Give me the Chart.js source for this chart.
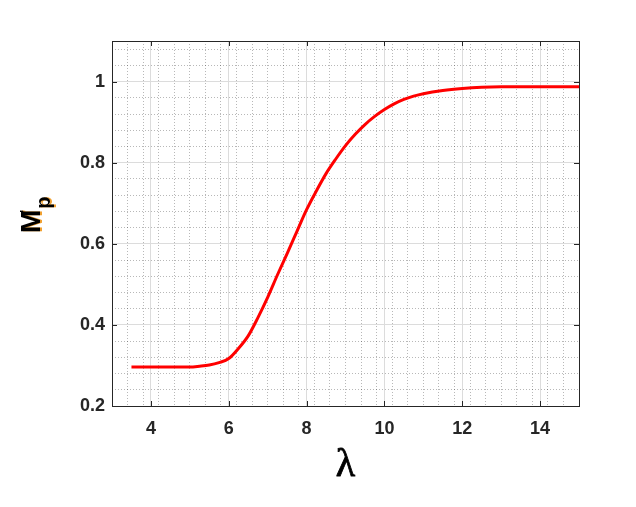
<!DOCTYPE html>
<html>
<head>
<meta charset="utf-8">
<script src="https://cdn.jsdelivr.net/npm/chart.js@4/dist/chart.umd.min.js"></script>
<style>
  html, body { margin: 0; padding: 0; background: #fff; }
  canvas { display: block; }
</style>
</head>
<body>
<canvas id="mpChart" width="636" height="507"></canvas>
<script>
// lambda values and M'p
const lambdaValues = [3.5, 4.0, 4.5, 5.0, 5.25, 5.5, 5.75, 6.0, 6.25, 6.5, 6.75, 7.0, 7.25, 7.5, 7.75,
  8.0, 8.25, 8.5, 8.75, 9.0, 9.25, 9.5, 9.75, 10.0, 10.25, 10.5, 10.75, 11.0, 11.5, 12.0, 12.5, 13.0, 14.0, 15.0];
const mpValues = [0.296, 0.296, 0.296, 0.296, 0.298, 0.301, 0.307, 0.317, 0.342, 0.373, 0.418, 0.468, 0.523, 0.576, 0.630,
  0.684, 0.730, 0.773, 0.809, 0.842, 0.870, 0.894, 0.914, 0.931, 0.945, 0.956, 0.964, 0.970, 0.978, 0.983, 0.986, 0.987, 0.987, 0.987];
const xTicks = [4, 6, 8, 10, 12, 14];
const yTicks = [0.2, 0.4, 0.6, 0.8, 1];
const xRange = [3, 15];
const yRange = [0.2, 1.1];
const xLabel = 'λ';

const textColor = '#262626';
const tickFont = { family: "'Liberation Sans', Arial, sans-serif", size: 18, weight: 'bold' };

const boxPlugin = {
  id: 'matlabBox',
  afterDraw(chart) {
    const { ctx, chartArea: a, scales } = chart;
    ctx.save();
    ctx.strokeStyle = textColor;
    ctx.lineWidth = 1;
    ctx.strokeRect(a.left + 0.5, a.top + 0.5, a.right - a.left, a.bottom - a.top);
    ctx.beginPath();
    xTicks.forEach(v => {
      const px = Math.round(scales.x.getPixelForValue(v)) + 0.5;
      ctx.moveTo(px, a.bottom); ctx.lineTo(px, a.bottom - 5);
      ctx.moveTo(px, a.top); ctx.lineTo(px, a.top + 5);
    });
    yTicks.forEach(v => {
      const py = Math.round(scales.y.getPixelForValue(v)) + 0.5;
      ctx.moveTo(a.left, py); ctx.lineTo(a.left + 5, py);
      ctx.moveTo(a.right, py); ctx.lineTo(a.right - 5, py);
    });
    ctx.stroke();

    // x title
    ctx.fillStyle = '#000';
    ctx.strokeStyle = '#000';
    ctx.lineWidth = 0.8;
    ctx.font = "40px 'Liberation Serif', 'Times New Roman', serif";
    ctx.textAlign = 'center';
    ctx.textBaseline = 'alphabetic';
    ctx.fillText(xLabel, (a.left + a.right) / 2, 476);
    ctx.strokeText(xLabel, (a.left + a.right) / 2, 476);

    // y title M'p, rotated, with a colour fringe like the original
    const drawY = (color, dx) => {
      ctx.save();
      ctx.translate(40 + dx, 233);
      ctx.rotate(-Math.PI / 2);
      ctx.fillStyle = color;
      ctx.textAlign = 'left';
      ctx.font = "bold 28px 'Liberation Sans', Arial, sans-serif";
      const wM = ctx.measureText('M').width;
      ctx.fillText('M', 0, 0);
      ctx.font = "bold 12px 'Liberation Sans', Arial, sans-serif";
      ctx.fillText("'", wM - 3, -11);
      ctx.font = "bold 20px 'Liberation Sans', Arial, sans-serif";
      ctx.fillText('p', wM + 1, 10);
      ctx.restore();
    };
    drawY('#f0a030', 1.5);
    drawY('#000', 0);
    ctx.restore();
  }
};

new Chart(document.getElementById('mpChart'), {
  type: 'line',
  data: {
    datasets: [{
      data: lambdaValues.map((x, i) => ({ x, y: mpValues[i] })),
      borderColor: '#ff0000',
      borderWidth: 3,
      pointRadius: 0,
      cubicInterpolationMode: 'monotone',
      fill: false
    }]
  },
  options: {
    responsive: false,
    animation: false,
    layout: { padding: { left: 0, top: 41, right: 57, bottom: 0 } },
    plugins: { legend: { display: false }, tooltip: { enabled: false } },
    scales: {
      xMinor: {
        type: 'linear', position: 'bottom', min: xRange[0], max: xRange[1], z: -1,
        ticks: { display: false, stepSize: 0.4, includeBounds: false },
        grid: { color: 'rgba(0,0,0,0.28)', lineWidth: 1, drawTicks: false },
        border: { display: false, dash: [1, 2] },
        afterFit: s => { s.height = 0; }
      },
      yMinor: {
        type: 'linear', position: 'left', min: yRange[0], max: yRange[1], z: -1,
        ticks: { display: false, stepSize: 0.04, includeBounds: false },
        grid: { color: 'rgba(0,0,0,0.28)', lineWidth: 1, drawTicks: false },
        border: { display: false, dash: [1, 2] },
        afterFit: s => { s.width = 0; }
      },
      x: {
        type: 'linear', position: 'bottom', min: xRange[0], max: xRange[1],
        afterBuildTicks: s => { s.ticks = xTicks.map(v => ({ value: v })); },
        ticks: { color: textColor, font: tickFont, padding: 12, maxRotation: 0, callback: v => String(v) },
        grid: { color: '#dcdcdc', lineWidth: 1, drawTicks: false },
        border: { display: false },
        afterFit: s => { s.height = 101; }
      },
      y: {
        type: 'linear', position: 'left', min: yRange[0], max: yRange[1],
        afterBuildTicks: s => { s.ticks = yTicks.map(v => ({ value: v })); },
        ticks: { color: textColor, font: tickFont, padding: 7, callback: v => String(v) },
        grid: { color: '#dcdcdc', lineWidth: 1, drawTicks: false },
        border: { display: false },
        afterFit: s => { s.width = 112; }
      }
    }
  },
  plugins: [boxPlugin]
});
</script>
</body>
</html>
